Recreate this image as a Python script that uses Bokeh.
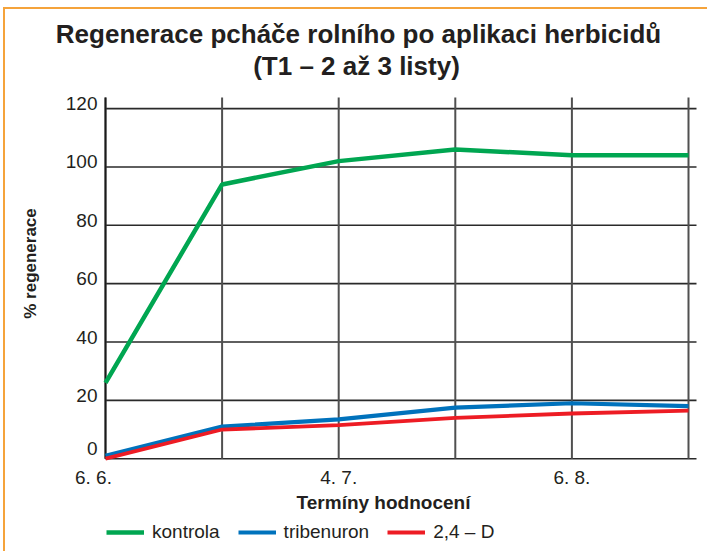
import math
from bokeh.plotting import figure
from bokeh.models import (ColumnDataSource, Label, LabelSet, Legend, LegendItem,
                          Range1d, BoxAnnotation)
from bokeh.core.properties import value
from bokeh.embed import file_html
from bokeh.resources import INLINE

# ---------------- data ----------------
x_idx = [0, 1, 2, 3, 4, 5]
tick_pos = [0, 2, 4]
tick_labels = ["6. 6.", "4. 7.", "6. 8."]
y_ticks = [0, 20, 40, 60, 80, 100, 120]
y_tick_labels = ["0", "20", "40", "60", "80", "100", "120"]
kontrola = [26, 94, 102, 106, 104, 104]
tribenuron = [1, 11, 13.5, 17.5, 19, 18]
d24 = [0, 10, 11.5, 14, 15.5, 16.5]
series_names = ["kontrola", "tribenuron", "2,4 – D"]
title_lines = ["Regenerace pcháče rolního po aplikaci herbicidů", "(T1 – 2 až 3 listy)"]
x_title = "Termíny hodnocení"
y_title = "% regenerace"

# ---------------- layout ----------------
W, H = 707, 551
PX_X0, PX_X5 = 105.0, 688.0       # page x of first / last time point
PX_Y0, PX_Y120 = 458.2, 108.1     # page y of 0 % / 120 %
ux = (PX_X5 - PX_X0) / 5.0
uy = (PX_Y0 - PX_Y120) / 120.0
X0 = -PX_X0 / ux
X1 = X0 + W / ux
Y0 = -(H - PX_Y0) / uy
Y1 = PX_Y0 / uy
GRID_RIGHT = 5 + 8 / ux
GRID_TOP = 120 + 11 / uy


def px_x(X):
    return X0 + X / ux


def px_y(Y):
    return Y0 + (H - Y) / uy


TXT = "#231f20"
FONT = "Liberation Sans"

p = figure(width=W, height=H, output_backend="svg", toolbar_location=None,
           x_range=Range1d(X0, X1), y_range=Range1d(Y0, Y1),
           x_axis_location=None, y_axis_location=None,
           min_border=0, min_border_left=0, min_border_right=0,
           min_border_top=0, min_border_bottom=0,
           background_fill_color="white", border_fill_color="white",
           outline_line_color=None)
p.grid.visible = False

# grid: horizontal lines
p.segment(x0=[0] * len(y_ticks), y0=y_ticks, x1=[GRID_RIGHT] * len(y_ticks), y1=y_ticks,
          line_color="#2a2a2a", line_width=1.6, level="underlay")
# grid: vertical lines
p.segment(x0=x_idx, y0=[0] * len(x_idx), x1=x_idx, y1=[GRID_TOP] * len(x_idx),
          line_color="#505050", line_width=2, level="underlay")
# left axis line
p.segment(x0=[0], y0=[0], x1=[0], y1=[GRID_TOP], line_color="#1a1a1a", line_width=1.8,
          level="underlay")

r_k = p.line(x_idx, kontrola, line_color="#00a651", line_width=4.5)
r_t = p.line(x_idx, tribenuron, line_color="#0072bc", line_width=4.2)
r_d = p.line(x_idx, d24, line_color="#ed1c24", line_width=3.8)

# y tick labels (sit slightly above their grid lines)
y_offs = [10 if v == 0 else 5 for v in y_ticks]
ysrc = ColumnDataSource(dict(x=[0] * len(y_ticks), y=y_ticks, t=y_tick_labels, dy=y_offs))
p.add_layout(LabelSet(x="x", y="y", text="t", source=ysrc, x_offset=-8, y_offset="dy",
                      text_align="right", text_baseline="middle",
                      text_font=value(FONT), text_font_size="19px", text_color=TXT))
# x tick labels (first one nudged left as in the original)
x_offs = [-12 if i == 0 else 0 for i in range(len(tick_pos))]
xsrc = ColumnDataSource(dict(x=tick_pos, y=[0] * len(tick_pos), t=tick_labels, dx=x_offs))
p.add_layout(LabelSet(x="x", y="y", text="t", source=xsrc, x_offset="dx", y_offset=-19,
                      text_align="center", text_baseline="middle",
                      text_font=value(FONT), text_font_size="19px", text_color=TXT))

# titles
p.add_layout(Label(x=px_x(358), y=px_y(33), text=title_lines[0], text_align="center",
                   text_baseline="middle", text_font=FONT, text_font_size="26px",
                   text_font_style="bold", text_color=TXT))
p.add_layout(Label(x=px_x(356), y=px_y(65), text=title_lines[1], text_align="center",
                   text_baseline="middle", text_font=FONT, text_font_size="26px",
                   text_font_style="bold", text_color=TXT))
p.add_layout(Label(x=px_x(383), y=px_y(502), text=x_title, text_align="center",
                   text_baseline="middle", text_font=FONT, text_font_size="19px",
                   text_font_style="bold", text_color=TXT))
p.add_layout(Label(x=px_x(30), y=px_y(263), text=y_title, angle=math.pi / 2,
                   text_align="center", text_baseline="middle", text_font=FONT,
                   text_font_size="17px", text_font_style="bold", text_color=TXT))

# orange frame lines (top and left)
ORANGE = "#f5a33b"
p.add_layout(BoxAnnotation(left=px_x(3), right=px_x(707), top=px_y(6.5), bottom=px_y(8.5),
                           fill_color=ORANGE, fill_alpha=1, line_color=None))
p.add_layout(BoxAnnotation(left=px_x(2.5), right=px_x(4.5), top=px_y(6.5), bottom=px_y(551),
                           fill_color=ORANGE, fill_alpha=1, line_color=None))

legend = Legend(items=[LegendItem(label=series_names[0], renderers=[r_k]),
                       LegendItem(label=series_names[1], renderers=[r_t]),
                       LegendItem(label=series_names[2], renderers=[r_d])],
                orientation="horizontal", location=(106, 8),
                glyph_width=38, glyph_height=20, label_height=20, label_standoff=8,
                spacing=18, padding=0, margin=0, border_line_color=None,
                background_fill_alpha=0, label_text_font=FONT,
                label_text_font_size="19px", label_text_color=TXT)
p.add_layout(legend)

open("out.html", "w").write(file_html(p, INLINE))
